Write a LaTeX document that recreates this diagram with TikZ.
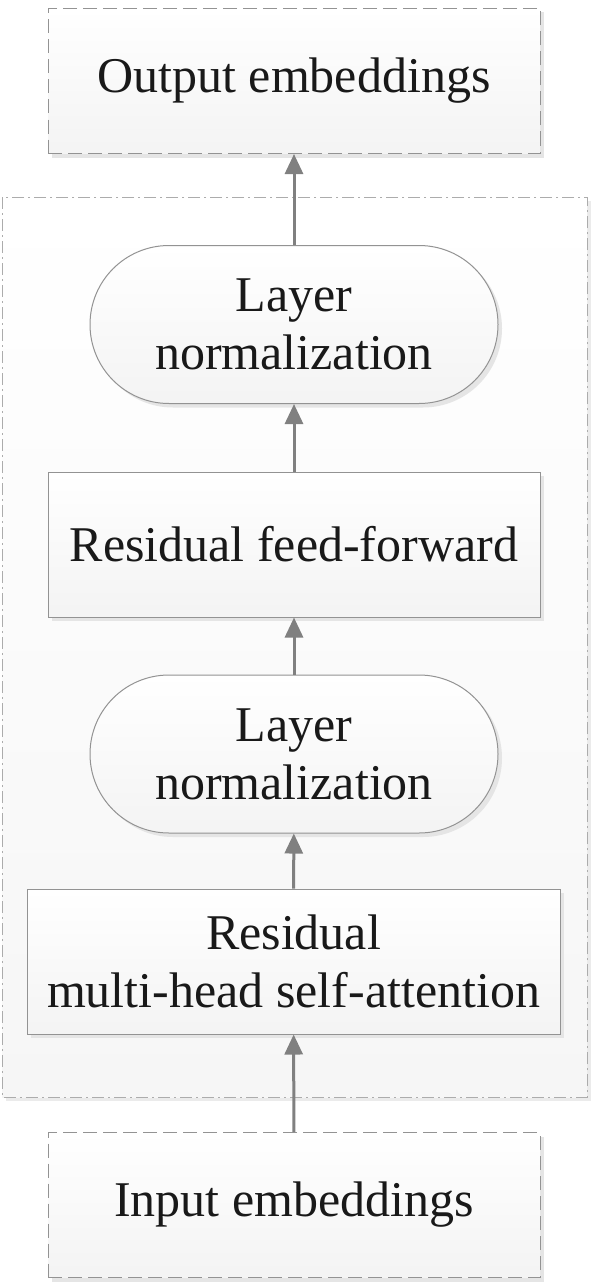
\documentclass[tikz,border=0pt]{standalone}
\usepackage{fontspec}
\setmainfont{Liberation Serif}
\usetikzlibrary{arrows.meta,shadows}

\tikzset{
  blk/.style={draw=gray!85, line width=0.5pt, top color=white, bottom color=gray!9,
    minimum width=246pt, minimum height=72.5pt, inner sep=0pt, align=center,
    font=\fontsize{25}{29}\selectfont, text=black!90,
    drop shadow={shadow xshift=2pt, shadow yshift=-2pt, fill=black!10, opacity=1}},
  dblk/.style={blk, dash pattern=on 7pt off 3pt},
  lnorm/.style={blk, minimum width=204pt, minimum height=79pt, rounded corners=39.5pt},
  flow/.style={-{Triangle[length=10pt,width=9pt]}, draw=gray, line width=1.5pt}
}

\begin{document}
\begin{tikzpicture}[x=0.5pt,y=-0.5pt]
        \useasboundingbox (0,0) rectangle (592,1284);
        % encoder block frame
        \draw[gray!65, line width=0.5pt, dash pattern=on 6pt off 2pt on 1pt off 2pt,
          top color=white, bottom color=gray!7,
          drop shadow={shadow xshift=2pt, shadow yshift=-2pt, fill=black!8, opacity=1}]
          (2,197) rectangle (587,1097);
        \node[dblk] (out) at (294,81) {Output embeddings};
        \node[lnorm] (ln1) at (294,324.5) {Layer\\normalization};
        \node[blk] (ff) at (294,544.5) {Residual feed-forward};
        \node[lnorm] (ln2) at (294,754) {Layer\\normalization};
        \node[blk, minimum width=266.5pt] (mhsa) at (293.5,961.5) {Residual\\multi-head self-attention};
        \node[dblk] (in) at (294,1205) {Input embeddings};
        \draw[flow] (in) -- (mhsa);
        \draw[flow] (mhsa) -- (ln2);
        \draw[flow] (ln2) -- (ff);
        \draw[flow] (ff) -- (ln1);
        \draw[flow] (ln1) -- (out);
      \end{tikzpicture}
\end{document}
